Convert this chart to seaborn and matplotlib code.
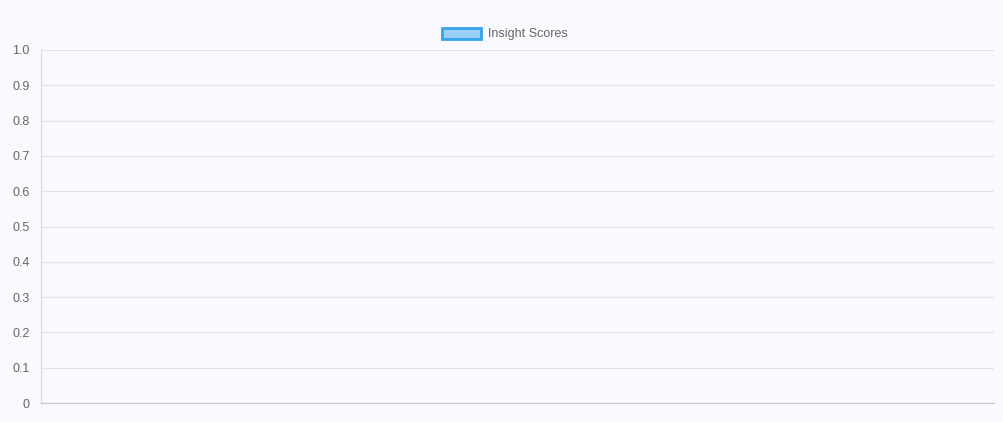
import matplotlib
matplotlib.use("Agg")
import matplotlib.pyplot as plt
import matplotlib.patches as mpatches
import seaborn as sns
import pandas as pd

# Data (the reference chart has no data points)
categories = []
scores = []
series_name = "Insight Scores"
y_ticks = [0, 0.1, 0.2, 0.3, 0.4, 0.5, 0.6, 0.7, 0.8, 0.9, 1.0]
y_tick_labels = ["0", "0.1", "0.2", "0.3", "0.4", "0.5", "0.6", "0.7", "0.8", "0.9", "1.0"]

sns.set_theme(style="white")
plt.rcParams['font.family'] = ['Liberation Sans', 'DejaVu Sans']

bg = "#f8faff"
fig = plt.figure(figsize=(10.04, 4.22), dpi=100, facecolor=bg)
ax = fig.add_axes([41 / 1004, 1 - 403 / 422, (994 - 41) / 1004, (403 - 50) / 422])
ax.set_facecolor(bg)

df = pd.DataFrame({"category": pd.Series(categories, dtype=object),
                   "score": pd.Series(scores, dtype=float)})
if len(df):
    sns.barplot(data=df, x="category", y="score", ax=ax,
                color="#9ad0f5", edgecolor="#36a2eb", linewidth=2)

ax.set_ylim(0, 1.0)
ax.set_xlim(0, 1)
ax.set_yticks(y_ticks)
ax.set_yticklabels(y_tick_labels)
ax.set_xticks([])
ax.set_xlabel("")
ax.set_ylabel("")
ax.grid(axis="y", color="#e3e3e3", linewidth=0.9)
ax.set_axisbelow(True)
ax.tick_params(axis="y", length=0, pad=8, labelsize=9, labelcolor="#666666")
for s in ["top", "right"]:
    ax.spines[s].set_visible(False)
ax.spines["left"].set_color("#dcdcdc")
ax.spines["left"].set_linewidth(0.9)
ax.spines["bottom"].set_color("#cccccc")
ax.spines["bottom"].set_linewidth(0.9)

handle = mpatches.Patch(facecolor="#9ad0f5", edgecolor="#36a2eb", linewidth=2, label=series_name)
fig.legend(handles=[handle], loc="center", bbox_to_anchor=(505 / 1004, 1 - 34 / 422),
           frameon=False, fontsize=9, labelcolor="#666666",
           handlelength=3.1, handleheight=1.0, handletextpad=0.55)

fig.savefig("out.png", dpi=100, facecolor=bg)
